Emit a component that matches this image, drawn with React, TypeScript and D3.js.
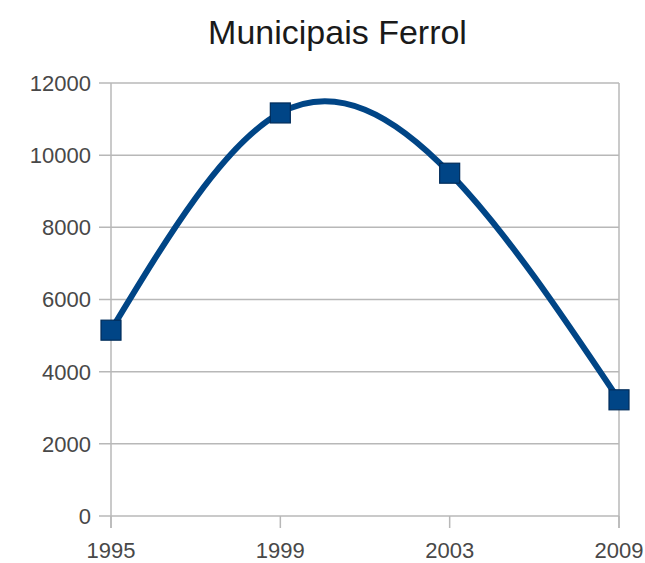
import React from "react";
import * as d3 from "d3";

const categories = ["1995", "1999", "2003", "2009"];
const values = [5150, 11170, 9500, 3220];
const yTicks = [0, 2000, 4000, 6000, 8000, 10000, 12000];
const title = "Municipais Ferrol";

const W = 645;
const H = 563;
const left = 111;
const right = 619;
const top = 83;
const bottom = 516;
const FONT = "'Liberation Sans', Arial, sans-serif";
const GRID = "#b8b8b8";
const BLUE = "#004586";

export default function App() {
  const x = d3.scalePoint<string>().domain(categories).range([left, right]);
  const y = d3.scaleLinear().domain([0, 12000]).range([bottom, top]);
  const pts: [number, number][] = categories.map((c, i) => [x(c) as number, y(values[i])]);
  const line = d3.line().curve(d3.curveNatural)(pts) || "";
  const ms = 20;
  return (
    <svg
      width={W}
      height={H}
      style={{ position: "absolute", left: 0, top: 0, background: "#fff" }}
    >
      <text
        x={337.5}
        y={44}
        textAnchor="middle"
        fontFamily={FONT}
        fontSize={34}
        fill="#1a1a1a"
      >
        {title}
      </text>
      {yTicks.map((t) => (
        <g key={t}>
          <line x1={99} x2={right} y1={y(t)} y2={y(t)} stroke={GRID} strokeWidth={1.5} />
          <text
            x={91}
            y={y(t)}
            dy="0.36em"
            textAnchor="end"
            fontFamily={FONT}
            fontSize={22}
            fill="#484848"
          >
            {t}
          </text>
        </g>
      ))}
      <line x1={left} x2={left} y1={top} y2={bottom + 12} stroke={GRID} strokeWidth={1.5} />
      <line x1={right} x2={right} y1={top} y2={bottom + 12} stroke={GRID} strokeWidth={1.5} />
      {categories.map((c) => (
        <g key={c}>
          <line
            x1={x(c) as number}
            x2={x(c) as number}
            y1={bottom}
            y2={bottom + 12}
            stroke={GRID}
            strokeWidth={1.5}
          />
          <text
            x={x(c) as number}
            y={557.5}
            textAnchor="middle"
            fontFamily={FONT}
            fontSize={22}
            fill="#484848"
          >
            {c}
          </text>
        </g>
      ))}
      <path d={line} fill="none" stroke={BLUE} strokeWidth={6} strokeLinecap="round" />
      {pts.map(([px, py], i) => (
        <rect
          key={i}
          x={px - ms / 2}
          y={py - ms / 2}
          width={ms}
          height={ms}
          fill={BLUE}
          stroke="#002c5a"
          strokeWidth={1.2}
        />
      ))}
    </svg>
  );
}
